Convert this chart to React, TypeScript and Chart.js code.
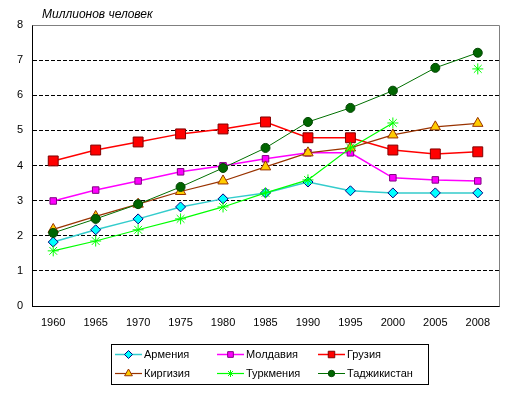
import React, { useEffect, useRef } from 'react';
import { Chart, registerables } from 'chart.js';
import { drawPoint } from 'chart.js/helpers';

Chart.register(...registerables);

const years = ['1960', '1965', '1970', '1975', '1980', '1985', '1990', '1995', '2000', '2005', '2008'];
const armenia = [1.82, 2.17, 2.48, 2.82, 3.05, 3.22, 3.53, 3.28, 3.22, 3.22, 3.22];
const moldova = [2.99, 3.3, 3.56, 3.82, 3.99, 4.19, 4.36, 4.36, 3.65, 3.59, 3.56];
const georgia = [4.13, 4.44, 4.67, 4.9, 5.04, 5.24, 4.79, 4.79, 4.44, 4.33, 4.39];
const kyrgyzstan = [2.18, 2.55, 2.9, 3.26, 3.56, 3.96, 4.36, 4.5, 4.87, 5.1, 5.2];
const turkmenistan = [1.57, 1.85, 2.17, 2.48, 2.82, 3.22, 3.59, 4.5, 5.21, null, 6.75];
const tajikistan = [2.08, 2.48, 2.9, 3.39, 3.93, 4.5, 5.24, 5.64, 6.13, 6.78, 7.21];
const yTitle = 'Миллионов человек';

type S = {
  label: string; data: (number | null)[]; line: string; fill: string; border: string;
  style: string; r: number; lr: number; lw: number; pbw: number;
};

const series: S[] = [
  { label: 'Армения', data: armenia, line: '#33CCCC', fill: '#00FFFF', border: '#000080', style: 'rectRot', r: 5, lr: 4, lw: 1.5, pbw: 1 },
  { label: 'Молдавия', data: moldova, line: '#FF00FF', fill: '#FF00FF', border: '#800080', style: 'rect', r: 4.6, lr: 4, lw: 1.5, pbw: 1 },
  { label: 'Грузия', data: georgia, line: '#FF0000', fill: '#FF0000', border: '#800000', style: 'rect', r: 7, lr: 4.6, lw: 1.5, pbw: 1 },
  { label: 'Киргизия', data: kyrgyzstan, line: '#993300', fill: '#FFCC00', border: '#993300', style: 'triangle', r: 6, lr: 4.5, lw: 1.2, pbw: 1 },
  { label: 'Туркмения', data: turkmenistan, line: '#00FF00', fill: '#00FF00', border: '#00FF00', style: 'star', r: 5.5, lr: 3.5, lw: 1.2, pbw: 1 },
  { label: 'Таджикистан', data: tajikistan, line: '#007000', fill: '#006600', border: '#004400', style: 'circle', r: 4.5, lr: 3.2, lw: 1, pbw: 1 },
];

const FONT = '"Liberation Sans", Arial, sans-serif';

export default function App() {
  const ref = useRef<HTMLCanvasElement | null>(null);
  useEffect(() => {
    if (!ref.current) return;
    const datasets = series.map((s, i) => ({
      label: s.label,
      data: s.data,
      borderColor: s.line,
      borderWidth: s.lw,
      backgroundColor: s.fill,
      pointStyle: s.style as any,
      pointRadius: s.r,
      pointBackgroundColor: s.fill,
      pointBorderColor: s.border,
      pointBorderWidth: s.pbw,
      spanGaps: false,
      tension: 0,
      order: series.length - i,
    }));

    const decor = {
      id: 'decor',
      beforeDatasetsDraw(chart: any) {
        const { ctx, chartArea: a } = chart;
        ctx.save();
        ctx.strokeStyle = '#808080';
        ctx.lineWidth = 1;
        ctx.beginPath();
        ctx.moveTo(Math.round(a.left) + 0.5, Math.round(a.top) + 0.5);
        ctx.lineTo(Math.round(a.right) + 0.5, Math.round(a.top) + 0.5);
        ctx.lineTo(Math.round(a.right) + 0.5, Math.round(a.bottom) + 0.5);
        ctx.stroke();
        ctx.restore();
      },
      afterDraw(chart: any) {
        const { ctx } = chart;
        ctx.save();
        ctx.font = `italic 12px ${FONT}`;
        ctx.fillStyle = '#000';
        ctx.textBaseline = 'alphabetic';
        ctx.textAlign = 'left';
        ctx.fillText(yTitle, 42, 18);
        ctx.strokeStyle = '#000';
        ctx.lineWidth = 1;
        ctx.strokeRect(111.5, 344.5, 317, 40);
        const cols = [115, 217, 318];
        const rows = [354, 373];
        series.forEach((s, i) => {
          const x0 = cols[i % 3];
          const y = rows[Math.floor(i / 3)];
          ctx.save();
          ctx.strokeStyle = s.line;
          ctx.lineWidth = s.lw;
          ctx.beginPath();
          ctx.moveTo(x0, y + 0.5);
          ctx.lineTo(x0 + 27, y + 0.5);
          ctx.stroke();
          ctx.fillStyle = s.fill;
          ctx.strokeStyle = s.border;
          ctx.lineWidth = 1;
          drawPoint(ctx, { pointStyle: s.style, radius: s.lr, rotation: 0, borderWidth: 1 } as any, x0 + 13.5, y + 0.5);
          ctx.restore();
          ctx.font = `11px ${FONT}`;
          ctx.fillStyle = '#000';
          ctx.textBaseline = 'middle';
          ctx.textAlign = 'left';
          ctx.fillText(s.label, x0 + 29, y + 1);
        });
        ctx.restore();
      },
    };

    const chart = new Chart(ref.current, {
      type: 'line',
      data: { labels: years, datasets: datasets as any },
      options: {
        animation: false,
        responsive: false,
        maintainAspectRatio: false,
        layout: { padding: { left: 0, right: 15, top: 25, bottom: 0 } },
        plugins: { legend: { display: false }, tooltip: { enabled: false }, title: { display: false } },
        scales: {
          x: {
            offset: true,
            grid: { display: false, drawTicks: false },
            border: { display: true, color: '#000', width: 1 },
            ticks: { color: '#000', font: { family: FONT, size: 11 }, padding: 10, maxRotation: 0, autoSkip: false },
            afterFit: (sc: any) => { sc.height = 87; },
          },
          y: {
            min: 0,
            max: 8,
            grid: {
              drawTicks: false,
              color: (c: any) => (c.tick && c.tick.value > 0 && c.tick.value < 8 ? '#000' : 'rgba(0,0,0,0)'),
              lineWidth: 1,
            },
            border: { display: true, color: '#000', width: 1, dash: [4, 2] },
            ticks: { stepSize: 1, color: '#000', font: { family: FONT, size: 11 }, padding: 9 },
            afterFit: (sc: any) => { sc.width = 32; },
          },
        },
      },
      plugins: [decor],
    });
    return () => chart.destroy();
  }, []);

  return (
    <div style={{ position: 'fixed', left: 0, top: 0, width: 514, height: 393, background: '#fff' }}>
      <canvas ref={ref} width={514} height={393} style={{ display: 'block', width: 514, height: 393 }} />
    </div>
  );
}
